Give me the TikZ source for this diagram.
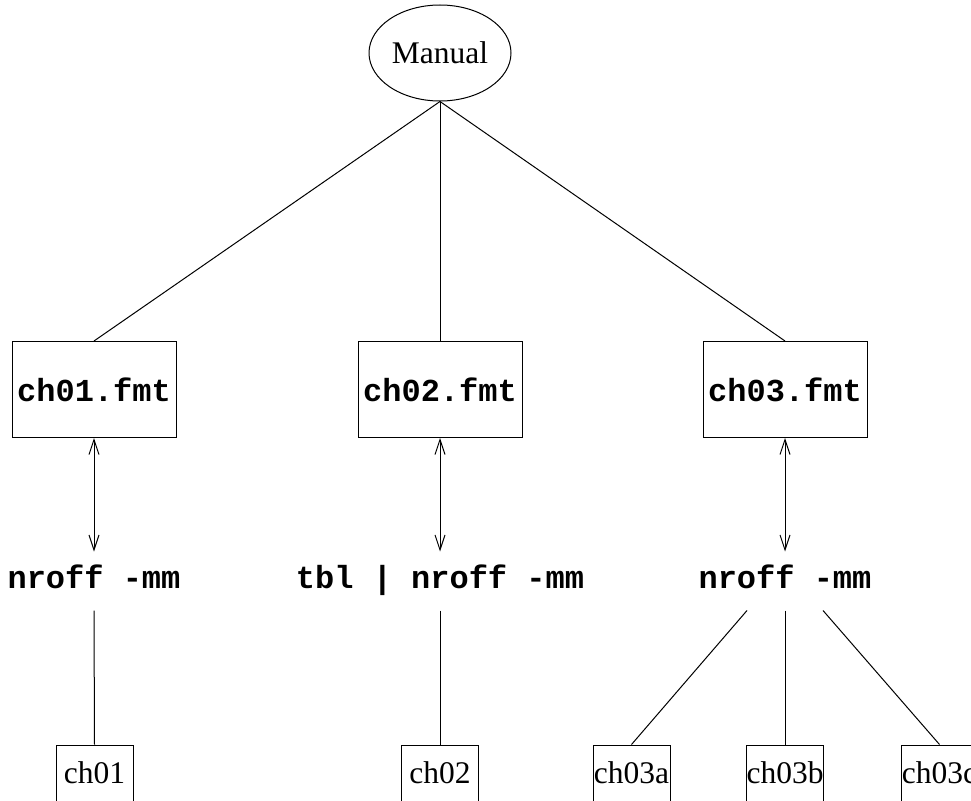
\documentclass[tikz,border=0pt]{standalone}
\usepackage{fontspec}
\setmainfont{Liberation Serif}
\setmonofont{Liberation Mono}
\usetikzlibrary{shapes.geometric,arrows.meta}
\tikzset{
  serif/.style={font=\fontsize{31.5}{36}\selectfont},
  code/.style={font=\fontsize{32}{36}\selectfont\ttfamily\bfseries},
  fmtbox/.style={draw, rectangle, code, minimum width=164pt, minimum height=96pt, inner sep=0pt},
  leafbox/.style={draw, rectangle, serif, minimum width=77pt, minimum height=56pt, inner sep=0pt},
  cmd/.style={code, text height=30pt, text depth=16pt, inner sep=6pt, anchor=base},
  dbl/.style={{Straight Barb[length=15pt,width=10pt]}-{Straight Barb[length=15pt,width=10pt]}}
}
\begin{document}
\begin{tikzpicture}[x=1pt,y=-1pt,line width=1pt]
\useasboundingbox (0,0) rectangle (971,800);
\clip (0,0) rectangle (971,800);
\node[draw, ellipse, serif, minimum width=142pt, minimum height=96pt, inner sep=0pt] (manual) at (440,53) {Manual};

\node[fmtbox] (f1) at (94,389.5) {ch01.fmt};
\node[fmtbox] (f2) at (440,389.5) {ch02.fmt};
\node[fmtbox] (f3) at (785,389.5) {ch03.fmt};

\node[cmd] (n1) at (94,588) {nroff -mm};
\node[cmd] (n2) at (440,588) {tbl | nroff -mm};
\node[cmd] (n3) at (785,588) {nroff -mm};

\node[leafbox] (b1) at (94.5,773) {ch01};
\node[leafbox] (b2) at (440,773) {ch02};
\node[leafbox] (b3a) at (631.5,773) {ch03a};
\node[leafbox] (b3b) at (785,773) {ch03b};
\node[leafbox] (b3c) at (939.5,773) {ch03c};

\draw (manual.south) -- (f1.north);
\draw (manual.south) -- (f2.north);
\draw (manual.south) -- (f3.north);

\draw[dbl] (f1.south) -- (n1.north);
\draw[dbl] (f2.south) -- (n2.north);
\draw[dbl] (f3.south) -- (n3.north);

\draw (n1.south) -- (b1.north);
\draw (n2.south) -- (b2.north);
\draw ([xshift=-38pt]n3.south) -- (b3a.north);
\draw (n3.south) -- (b3b.north);
\draw ([xshift=38pt]n3.south) -- (b3c.north);
\end{tikzpicture}
\end{document}
